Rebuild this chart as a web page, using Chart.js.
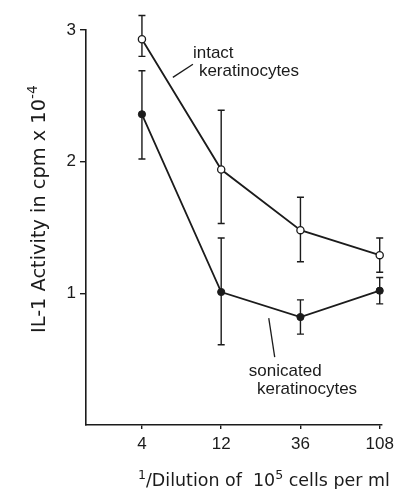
<!DOCTYPE html>
<html><head><meta charset="utf-8">
<script src="https://cdn.jsdelivr.net/npm/chart.js@4"></script>
<style>html,body{margin:0;padding:0;background:#fff}#wrap{width:399px;height:489px}</style>
</head><body><div id="wrap"><canvas id="c" width="399" height="489"></canvas></div>
<script>
// ---- data ----
const dilutions = [4, 12, 36, 108];
const xTickLabels = ['4', '12', '36', '108'];
const yTickValues = [1, 2, 3];
const intactMean = [2.93, 1.94, 1.48, 1.29];
const intactHigh = [3.11, 2.39, 1.73, 1.42];
const intactLow  = [2.80, 1.53, 1.24, 1.16];
const sonicMean  = [2.36, 1.01, 0.82, 1.02];
const sonicHigh  = [2.69, 1.42, 0.95, 1.12];
const sonicLow   = [2.02, 0.61, 0.69, 0.92];

const INK = '#1b1b1b';
const FONT = '"Liberation Sans", Arial, sans-serif';
const TFONT = '"DejaVu Sans", sans-serif';

const errorSets = [
  {hi: intactHigh, lo: intactLow},
  {hi: sonicHigh, lo: sonicLow}
];

const errorBarPlugin = {
  id: 'errorBars',
  beforeDatasetsDraw(chart) {
    const ctx = chart.ctx, xs = chart.scales.x, ys = chart.scales.y;
    ctx.save();
    ctx.strokeStyle = INK; ctx.lineWidth = 1.4;
    errorSets.forEach(es => {
      dilutions.forEach((d, i) => {
        const px = xs.getPixelForValue(d);
        const t = ys.getPixelForValue(es.hi[i]);
        const b = ys.getPixelForValue(es.lo[i]);
        ctx.beginPath();
        ctx.moveTo(px, t); ctx.lineTo(px, b);
        ctx.moveTo(px - 3.5, t); ctx.lineTo(px + 3.5, t);
        ctx.moveTo(px - 3.5, b); ctx.lineTo(px + 3.5, b);
        ctx.stroke();
      });
    });
    ctx.restore();
  }
};

// annotation anchors in data space (x = dilution value, y = activity)
const annotations = [
  {text: 'intact', x: 8.11, y: 2.825},
  {text: 'keratinocytes', x: 8.81, y: 2.69},
  {text: 'sonicated', x: 17.6, y: 0.41},
  {text: 'keratinocytes', x: 19.7, y: 0.273}
];
const leaders = [
  [[6.14, 2.64], [8.11, 2.74]],
  [[23.2, 0.812], [25.2, 0.516]]
];

function drawRich(ctx, pieces, x, baseline, size, fam) {
  let cx = x;
  pieces.forEach(p => {
    const fs = p.sup ? size * 0.72 : size;
    ctx.font = fs + 'px ' + fam;
    ctx.fillText(p.t, cx, baseline - (p.sup ? size * 0.42 : 0));
    cx += ctx.measureText(p.t).width;
  });
  return cx - x;
}
function richWidth(ctx, pieces, size, fam) {
  let w = 0;
  pieces.forEach(p => {
    ctx.font = (p.sup ? size * 0.72 : size) + 'px ' + fam;
    w += ctx.measureText(p.t).width;
  });
  return w;
}
function fitSize(ctx, pieces, target, fam) {
  const w = richWidth(ctx, pieces, 20, fam);
  return 20 * target / w;
}

const textPlugin = {
  id: 'texts',
  afterDraw(chart) {
    const ctx = chart.ctx, xs = chart.scales.x, ys = chart.scales.y;
    ctx.save();
    ctx.fillStyle = INK; ctx.strokeStyle = INK;
    // annotations
    ctx.font = '17px ' + FONT;
    ctx.textBaseline = 'middle'; ctx.textAlign = 'left';
    annotations.forEach(a => {
      ctx.fillText(a.text, xs.getPixelForValue(a.x), ys.getPixelForValue(a.y));
    });
    ctx.lineWidth = 1.3;
    leaders.forEach(l => {
      ctx.beginPath();
      ctx.moveTo(xs.getPixelForValue(l[0][0]), ys.getPixelForValue(l[0][1]));
      ctx.lineTo(xs.getPixelForValue(l[1][0]), ys.getPixelForValue(l[1][1]));
      ctx.stroke();
    });
    // x title
    ctx.textBaseline = 'alphabetic';
    const xPieces = [{t: '1', sup: true}, {t: '/Dilution of  10'}, {t: '5', sup: true}, {t: ' cells per ml'}];
    const xsz = fitSize(ctx, xPieces, 252, TFONT);
    drawRich(ctx, xPieces, 138, 486, xsz, TFONT);
    // y title (rotated)
    const yPieces = [{t: 'IL-1 Activity in cpm x 10'}, {t: '-4', sup: true}];
    const ysz = fitSize(ctx, yPieces, 248, TFONT);
    ctx.translate(45, 333);
    ctx.rotate(-Math.PI / 2);
    drawRich(ctx, yPieces, 0, 0, ysz, TFONT);
    ctx.restore();
  }
};

new Chart(document.getElementById('c'), {
  type: 'line',
  data: {
    datasets: [
      {
        label: 'intact keratinocytes',
        data: dilutions.map((d, i) => ({x: d, y: intactMean[i]})),
        borderColor: INK, borderWidth: 1.8,
        pointRadius: 3.6, pointBorderWidth: 1.3,
        pointBackgroundColor: '#ffffff', pointBorderColor: INK,
        tension: 0, clip: false
      },
      {
        label: 'sonicated keratinocytes',
        data: dilutions.map((d, i) => ({x: d, y: sonicMean[i]})),
        borderColor: INK, borderWidth: 1.8,
        pointRadius: 3.6, pointBorderWidth: 1,
        pointBackgroundColor: INK, pointBorderColor: INK,
        tension: 0, clip: false
      }
    ]
  },
  options: {
    responsive: false, animation: false, devicePixelRatio: 1,
    layout: {padding: {top: 30, right: 17, left: 0, bottom: 0}},
    plugins: {legend: {display: false}, tooltip: {enabled: false}},
    scales: {
      x: {
        type: 'logarithmic', min: 1.842, max: 111.0, bounds: 'data',
        afterBuildTicks: s => { s.ticks = dilutions.map(v => ({value: v})); },
        afterFit: s => { s.height = 64; },
        ticks: {
          callback: (v, i) => xTickLabels[i],
          autoSkip: false, maxRotation: 0, padding: 5,
          color: INK, font: {family: FONT, size: 17}
        },
        grid: {drawOnChartArea: false, tickLength: 4, color: INK, lineWidth: 1.4},
        border: {color: INK, width: 1.6}
      },
      y: {
        type: 'linear', min: 0, max: 3,
        afterBuildTicks: s => { s.ticks = yTickValues.map(v => ({value: v})); },
        afterFit: s => { s.width = 86; },
        ticks: {
          callback: v => String(v),
          padding: 4, color: INK, font: {family: FONT, size: 17}
        },
        grid: {drawOnChartArea: false, tickLength: 6, color: INK, lineWidth: 1.4},
        border: {color: INK, width: 1.6}
      }
    }
  },
  plugins: [errorBarPlugin, textPlugin]
});
</script>
</body></html>
